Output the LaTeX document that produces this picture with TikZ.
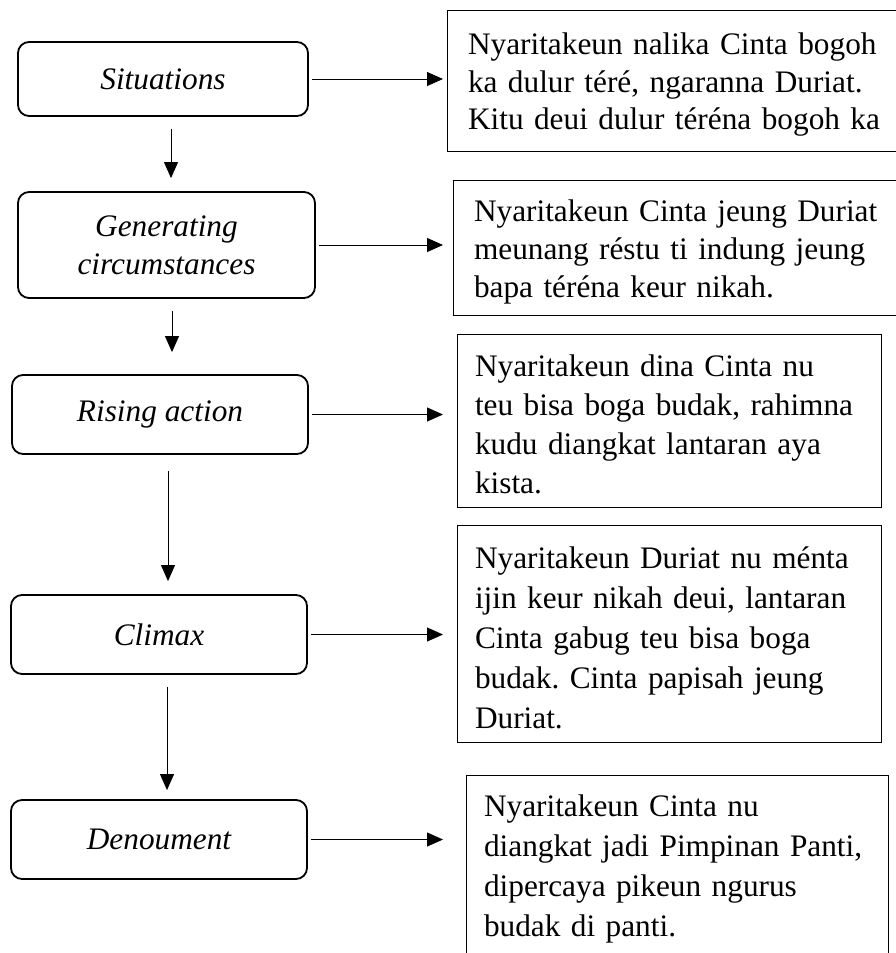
\documentclass[tikz,border=0pt]{standalone}
\usepackage{fontspec}
\setmainfont{Liberation Serif}
\usetikzlibrary{arrows.meta,positioning}
\newcommand{\jline}[2]{\makebox[#1][s]{#2}}
\frenchspacing

\begin{document}
\begin{tikzpicture}[x=1pt, y=-1pt, every node/.style={font=\fontsize{31.3}{39}\selectfont},
  stage/.style={rounded corners=11pt, draw, line width=1.8pt, minimum width=296pt, minimum height=79pt, align=center, font=\fontsize{31.3}{38}\selectfont\itshape},
  note/.style={draw, line width=1pt, inner xsep=19pt, inner ysep=0pt, align=left, execute at begin node={\rule{0pt}{30pt}}},
  arr/.style={line width=0.9pt, -{Triangle[length=16pt, width=14pt]}}]
\useasboundingbox (0,0) rectangle (896,953);
\clip (0,0) rectangle (896,953);
% Plot stages
\node[stage, minimum width=290pt, minimum height=74pt] (sit) at (163,79) {Situations};
\node[stage, minimum width=297pt, minimum height=106pt] (gen) at (166.5,245) {Generating\\circumstances};
\node[stage] (rise) at (160,414.5) {Rising action};
\node[stage] (clim) at (159,634.5) {Climax};
\node[stage] (den) at (159,839.5) {Denoument};
% Story notes (the first two run past the right edge)
\node[note, inner xsep=21pt, text width=470pt, minimum height=141pt, font=\fontsize{31.3}{37.5}\selectfont] (txtA) at (703,80.5)
  {\jline{420pt}{Nyaritakeun nalika Cinta bogoh}\\\jline{420pt}{ka dulur téré, ngaranna Duriat.}\\\jline{420pt}{Kitu deui dulur téréna bogoh ka}};
\node[note, inner xsep=21pt, text width=460pt, minimum height=135pt, font=\fontsize{31.3}{38}\selectfont] (txtB) at (704,247.5)
  {\jline{407pt}{Nyaritakeun Cinta jeung Duriat}\\\jline{407pt}{meunang réstu ti indung jeung}\\bapa téréna keur nikah.};
\node[note, text width=388pt, inner xsep=18pt, minimum height=173pt] (txtC) at (669,420.5)
  {Nyaritakeun dina Cinta nu\\teu bisa boga budak, rahimna\\kudu diangkat lantaran aya\\kista.};
\node[note, text width=388pt, inner xsep=18pt, minimum height=217pt, font=\fontsize{31.3}{40}\selectfont] (txtD) at (669,633.5)
  {Nyaritakeun Duriat nu ménta\\ijin keur nikah deui, lantaran\\Cinta gabug teu bisa boga\\budak. Cinta papisah jeung\\Duriat.};
\node[note, text width=386pt, inner xsep=18pt, minimum height=180pt, font=\fontsize{31.3}{40}\selectfont] (txtE) at (677,865)
  {Nyaritakeun Cinta nu\\diangkat jadi Pimpinan Panti,\\dipercaya pikeun ngurus\\budak di panti.};
% Flow down
\draw[arr, shorten <=12pt, shorten >=13pt] ([xshift=8pt]sit.south) -- ([xshift=8pt]sit.south |- gen.north);
\draw[arr, shorten <=12pt, shorten >=22pt] ([xshift=5.5pt]gen.south) -- ([xshift=5.5pt]gen.south |- rise.north);
\draw[arr, shorten <=16pt, shorten >=13pt] ([xshift=8pt]rise.south) -- ([xshift=8pt]rise.south |- clim.north);
\draw[arr, shorten <=12pt, shorten >=9pt] ([xshift=8pt]clim.south) -- ([xshift=8pt]clim.south |- den.north);
% Links to notes
\coordinate (tips) at (443,0);
\foreach \s in {sit,gen,rise,clim,den}
  \draw[arr, shorten <=3pt] (\s.east) -- (\s.east -| tips);
\end{tikzpicture}
\end{document}
